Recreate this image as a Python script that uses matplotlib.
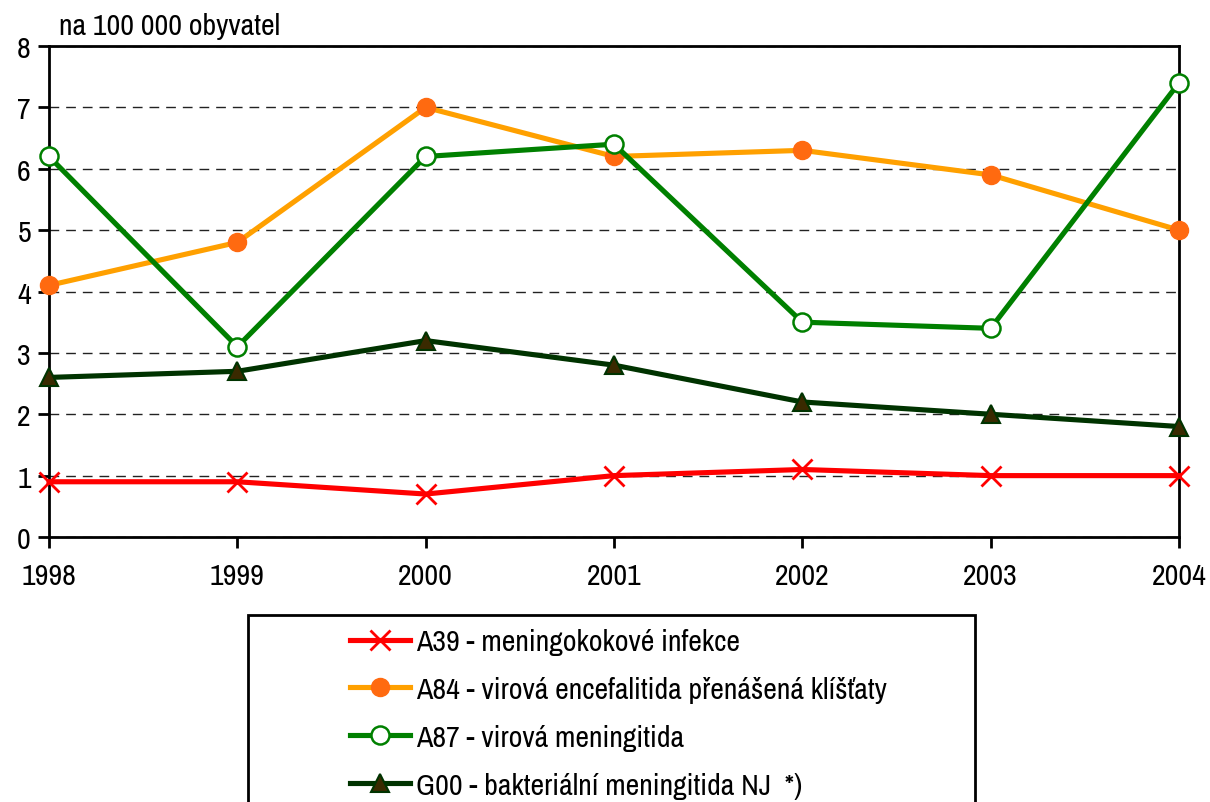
import matplotlib
matplotlib.use("Agg")
import matplotlib.pyplot as plt
from matplotlib.patches import Rectangle
from matplotlib import font_manager as fm

available = {f.name for f in fm.fontManager.ttflist}
prefs = ['Liberation Sans Narrow', 'Arial Narrow', 'Archivo Narrow',
         'PT Sans Narrow', 'Roboto Condensed', 'Open Sans Condensed',
         'Encode Sans Condensed', 'Liberation Sans']
chosen = next((p for p in prefs if p in available), 'DejaVu Sans')
plt.rcParams['font.family'] = [chosen, 'Liberation Sans', 'DejaVu Sans']

years = ['1998', '1999', '2000', '2001', '2002', '2003', '2004']
a39 = [0.9, 0.9, 0.7, 1.0, 1.1, 1.0, 1.0]
a84 = [4.1, 4.8, 7.0, 6.2, 6.3, 5.9, 5.0]
a87 = [6.2, 3.1, 6.2, 6.4, 3.5, 3.4, 7.4]
g00 = [2.6, 2.7, 3.2, 2.8, 2.2, 2.0, 1.8]
labels = ['A39 - meningokokové infekce',
          'A84 - virová encefalitida přenášená klíšťaty',
          'A87 - virová meningitida',
          'G00 - bakteriální meningitida NJ  *)']
y_label = 'na 100 000 obyvatel'

W, H = 1210, 803
fig = plt.figure(figsize=(W / 100, H / 100), dpi=100)

# calibrate font size so the title text has the reference width (~221 px)
probe = fig.text(0, 0, y_label, fontsize=20)
fig.canvas.draw()
wpx = probe.get_window_extent().width
probe.remove()
fs = min(22, 20 * 221 / wpx)
fs_px = fs * 100 / 72

ax = fig.add_axes([49 / W, 1 - 538 / H, (1179 - 49) / W, (538 - 47) / H])
x = list(range(len(years)))

h1, = ax.plot(x, a39, color='#FF0000', lw=3.7, marker='x', ms=14, mew=2,
              mec='#FF0000', zorder=5, clip_on=False)
h2, = ax.plot(x, a84, color='#FFA000', lw=3.7, marker='o', ms=13,
              mfc='#FF6A10', mec='#FF6A10', zorder=4, clip_on=False)
h3, = ax.plot(x, a87, color='#008000', lw=3.7, marker='o', ms=13,
              mfc='white', mec='#008000', mew=1.8, zorder=4, clip_on=False)
h4, = ax.plot(x, g00, color='#003300', lw=3.7, marker='^', ms=12.5,
              mfc='#3A2A00', mec='#003300', mew=1.5, zorder=4, clip_on=False)

ax.set_xlim(0, len(years) - 1)
ax.set_ylim(0, 8)
ax.set_xticks(x)
ax.set_xticklabels(years, fontsize=fs)
ax.set_yticks(range(0, 9))
ax.set_yticklabels([str(v) for v in range(0, 9)], fontsize=fs)
ax.tick_params(axis='both', direction='out', length=8, width=2, colors='black')
ax.tick_params(axis='x', pad=10)
ax.tick_params(axis='y', pad=5)
for s in ax.spines.values():
    s.set_linewidth(2)
    s.set_color('black')
ax.yaxis.grid(True, linestyle=(0, (7, 5)), color='#222222', lw=1.0)
ax.set_axisbelow(True)

fig.text(59 / W, 1 - 27 / H, y_label, fontsize=fs, va='center', ha='left')

rect = Rectangle((248 / W, -0.05), (975 - 248) / W, (1 - 616 / H) + 0.05,
                 transform=fig.transFigure, fill=False, edgecolor='black',
                 lw=2, clip_on=False)
fig.add_artist(rect)

leg = fig.legend([h1, h2, h3, h4], labels, loc='upper left',
                 bbox_to_anchor=(350 / W, 1 - 629 / H), frameon=False,
                 fontsize=fs, handlelength=60 / fs_px, labelspacing=0.7,
                 handletextpad=6 / fs_px, borderaxespad=0, borderpad=0)

fig.savefig('out.png', dpi=100)
